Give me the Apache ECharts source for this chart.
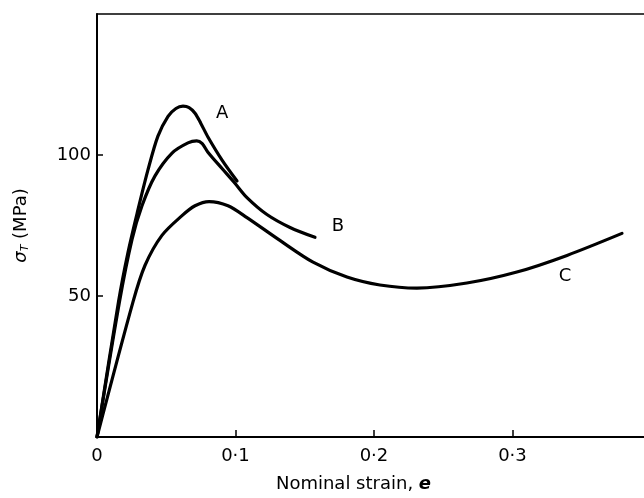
<!DOCTYPE html>
<html>
<head>
<meta charset="utf-8">
<script src="https://cdn.jsdelivr.net/npm/echarts@6/dist/echarts.min.js"></script>
<style>html,body{margin:0;padding:0;background:#fff;}#c{width:644px;height:498px;}</style>
</head>
<body>
<div id="c"></div>
<script>
// Curve A (strain, MPa)
const curveA = [
  [0,0],[0.0155,47.9],[0.0224,65.5],[0.0296,80.6],[0.0368,94.7],[0.0440,106.7],
  [0.0513,113.7],[0.0570,116.5],[0.0621,117.3],[0.0665,116.8],[0.0708,114.8],
  [0.0750,111.2],[0.0801,106.4],[0.0903,98.2],[0.1011,90.8]
];
// Curve B
const curveB = [
  [0,0],[0.0162,47.9],[0.0253,70.1],[0.0325,82.0],[0.0419,92.6],[0.0542,100.7],
  [0.0657,104.3],[0.0720,105.0],[0.0760,104.0],[0.0801,101.0],[0.0903,95.2],
  [0.0996,90.0],[0.1083,84.9],[0.1227,78.9],[0.1394,74.3],[0.1574,70.8]
];
// Curve C
const curveC = [
  [0,0],[0.0260,47.9],[0.0347,60.9],[0.0469,71.5],[0.0614,78.5],[0.0708,82.0],
  [0.0809,83.5],[0.0946,82.0],[0.1083,77.8],[0.1321,69.7],[0.1560,62.0],
  [0.1805,56.7],[0.2043,53.9],[0.2310,52.8],[0.2671,54.6],[0.3032,58.5],
  [0.3394,64.4],[0.3791,72.2]
];
const curveNames = ['A','B','C'];
const labelAt = [[0.0903,114.8],[0.1740,74.6],[0.3379,57.0]];
const xTickLabels = {'0':'0','0.1':'0·1','0.2':'0·2','0.3':'0·3'};
const yTickLabels = {'50':'50','100':'100'};

const FONT = 'DejaVu Sans';
const chart = echarts.init(document.getElementById('c'));
function mkSeries(name, data, lab){
  return {
    name: name, type: 'line', data: data, smooth: 0.3, symbol: 'none',
    lineStyle: {color:'#000', width: 3.2, cap:'round', join:'round'},
    silent: true, animation: false,
    markPoint: {
      symbol: 'circle', symbolSize: 0, animation: false,
      data: [{coord: lab, value: name}],
      label: {show: true, position: 'inside', formatter: name, color:'#000',
              fontFamily: FONT, fontSize: 18}
    }
  };
}
chart.setOption({
  animation: false,
  backgroundColor: '#fff',
  grid: {left: 97, top: 14, right: 0, bottom: 57, containLabel: false},
  xAxis: [{
    type: 'value', min: 0, max: 0.395, interval: 0.1, position: 'bottom',
    name: 'Nominal strain, {e|e}', nameLocation: 'middle', nameGap: 38,
    nameTextStyle: {color:'#000', fontFamily: FONT, fontSize: 18, padding:[0,34,0,0],
      rich: {e:{fontFamily: FONT, fontSize: 18, fontStyle:'italic', fontWeight:'bold', color:'#000'}}},
    axisLine: {show: true, onZero: false, lineStyle: {color:'#000', width: 2}},
    axisTick: {show: true, inside: true, length: 7, lineStyle: {color:'#000', width: 1.5}},
    axisLabel: {color:'#000', fontFamily: FONT, fontSize: 18, margin: 10, showMaxLabel: false,
      formatter: v => { const k = String(Math.round(v*10)/10); return xTickLabels[k] !== undefined ? xTickLabels[k] : ''; }},
    splitLine: {show: false}
  },{
    type: 'value', min: 0, max: 0.395, position: 'top',
    axisLine: {show: true, onZero: false, lineStyle: {color:'#000', width: 1.5}},
    axisTick: {show: false}, axisLabel: {show: false}, splitLine: {show: false}
  }],
  yAxis: {
    type: 'value', min: 0, max: 150, interval: 50,
    name: '{s|σ}{t|T} (MPa)', nameLocation: 'middle', nameGap: 66, nameRotate: 90,
    nameTextStyle: {color:'#000', fontFamily: FONT, fontSize: 18,
      rich: {s:{fontFamily: FONT, fontSize: 18, fontStyle:'italic', color:'#000'},
             t:{fontFamily: FONT, fontSize: 11, fontStyle:'italic', color:'#000', verticalAlign:'bottom', padding:[8,0,0,0]}}},
    axisLine: {show: true, onZero: false, lineStyle: {color:'#000', width: 2}},
    axisTick: {show: true, inside: true, length: 6, lineStyle: {color:'#000', width: 1.5},
      customValues: [50,100]},
    axisLabel: {color:'#000', fontFamily: FONT, fontSize: 18, margin: 6,
      formatter: v => yTickLabels[String(v)] || ''},
    splitLine: {show: false}
  },
  series: [
    mkSeries(curveNames[0], curveA, labelAt[0]),
    mkSeries(curveNames[1], curveB, labelAt[1]),
    mkSeries(curveNames[2], curveC, labelAt[2])
  ]
});
</script>
</body>
</html>
